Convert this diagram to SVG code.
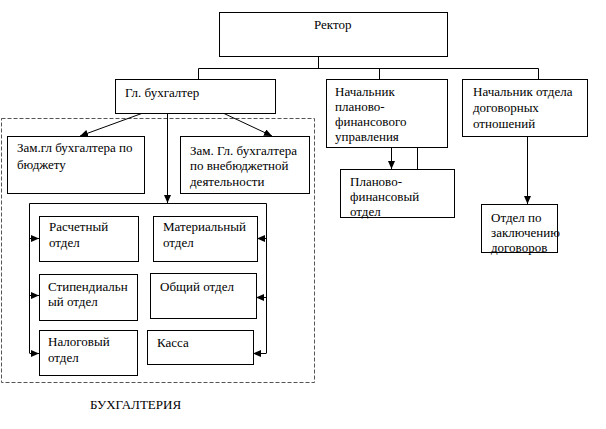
<svg xmlns="http://www.w3.org/2000/svg" width="606" height="429" viewBox="0 0 606 429" font-family="Liberation Serif, serif">
<style>
.b{fill:#fff;stroke:#000;stroke-width:1}
.t{font-size:13px;fill:#000}
.c{fill:none;stroke:#000;stroke-width:1}
.d{fill:none;stroke:#555;stroke-width:1;stroke-dasharray:4,2}
</style>
<defs>
<marker id="ah" markerUnits="userSpaceOnUse" markerWidth="8" markerHeight="7" refX="8" refY="3.5" orient="auto">
<path d="M0,0 L8,3.5 L0,7 z" fill="#000"/>
</marker>
</defs>
<rect width="606" height="429" fill="#fff"/>
<rect id="buh-area" class="d" x="1.5" y="118.5" width="313" height="264"/>
<g id="connectors">
<path class="c" d="M318.5,56 V68.5 M198.5,68.5 H538.5 M198.5,68.5 V79 M379.5,68.5 V79 M538.5,68.5 V79"/>
<path class="c" d="M143,113 L80,136" marker-end="url(#ah)"/>
<path class="c" d="M223,113 L272,136" marker-end="url(#ah)"/>
<path class="c" d="M167.5,113 V203" marker-end="url(#ah)"/>
<path class="c" d="M29.5,353 V203.5 H266.5 V353"/>
<path class="c" d="M29.5,238.5 H39" marker-end="url(#ah)"/>
<path class="c" d="M29.5,295.5 H39" marker-end="url(#ah)"/>
<path class="c" d="M29.5,353.5 H39" marker-end="url(#ah)"/>
<path class="c" d="M266.5,238.5 H257" marker-end="url(#ah)"/>
<path class="c" d="M266.5,297.5 H256" marker-end="url(#ah)"/>
<path class="c" d="M266.5,353.5 H253" marker-end="url(#ah)"/>
<path class="c" d="M391.5,147 V169" marker-end="url(#ah)"/>
<path class="c" d="M417.5,147 V169"/>
<path class="c" d="M527.5,136 V204" marker-end="url(#ah)"/>
</g>
<g id="rektor"><rect class="b" x="219.5" y="12.5" width="228" height="44"/><text class="t" x="314" y="29">Ректор</text></g>
<g id="gl-buh"><rect class="b" x="115.5" y="79.5" width="160" height="34"/><text class="t" x="125" y="97">Гл. бухгалтер</text></g>
<g id="nach-pfu"><rect class="b" x="326.5" y="79.5" width="121" height="68"/><text class="t" x="335"><tspan x="335" y="96">Начальник</tspan><tspan x="335" y="111">планово-</tspan><tspan x="335" y="126">финансового</tspan><tspan x="335" y="141">управления</tspan></text></g>
<g id="nach-dog"><rect class="b" x="462.5" y="79.5" width="125" height="57"/><text class="t" x="473"><tspan x="473" y="96">Начальник отдела</tspan><tspan x="473" y="112">договорных</tspan><tspan x="473" y="128">отношений</tspan></text></g>
<g id="pfo"><rect class="b" x="340.5" y="169.5" width="114" height="48"/><text class="t" x="350"><tspan x="350" y="186">Планово-</tspan><tspan x="350" y="201">финансовый</tspan><tspan x="350" y="216">отдел</tspan></text></g>
<g id="otd-dog"><rect class="b" x="481.5" y="204.5" width="76" height="48"/><text class="t" x="491"><tspan x="491" y="222">Отдел по</tspan><tspan x="491" y="237">заключению</tspan><tspan x="491" y="252">договоров</tspan></text></g>
<g id="zam-budget"><rect class="b" x="7.5" y="136.5" width="137" height="57"/><text class="t" x="17"><tspan x="17" y="152">Зам.гл бухгалтера по</tspan><tspan x="17" y="169">бюджету</tspan></text></g>
<g id="zam-vneb"><rect class="b" x="180.5" y="136.5" width="129" height="57"/><text class="t" x="190"><tspan x="190" y="155">Зам. Гл. бухгалтера</tspan><tspan x="190" y="170">по внебюджетной</tspan><tspan x="190" y="186">деятельности</tspan></text></g>
<g id="raschet"><rect class="b" x="39.5" y="216.5" width="99" height="45"/><text class="t" x="49"><tspan x="49" y="231">Расчетный</tspan><tspan x="49" y="247">отдел</tspan></text></g>
<g id="mater"><rect class="b" x="153.5" y="216.5" width="104" height="45"/><text class="t" x="163"><tspan x="163" y="231">Материальный</tspan><tspan x="163" y="247">отдел</tspan></text></g>
<g id="stip"><rect class="b" x="39.5" y="274.5" width="98" height="46"/><text class="t" x="48"><tspan x="48" y="291">Стипендиальн</tspan><tspan x="48" y="306">ый отдел</tspan></text></g>
<g id="obsh"><rect class="b" x="150.5" y="273.5" width="106" height="45"/><text class="t" x="160" y="291">Общий отдел</text></g>
<g id="nalog"><rect class="b" x="39.5" y="330.5" width="98" height="45"/><text class="t" x="48"><tspan x="48" y="346">Налоговый</tspan><tspan x="48" y="362">отдел</tspan></text></g>
<g id="kassa"><rect class="b" x="147.5" y="330.5" width="106" height="34"/><text class="t" x="157" y="347">Касса</text></g>
<text class="t" x="90" y="409">БУХГАЛТЕРИЯ</text>
</svg>
